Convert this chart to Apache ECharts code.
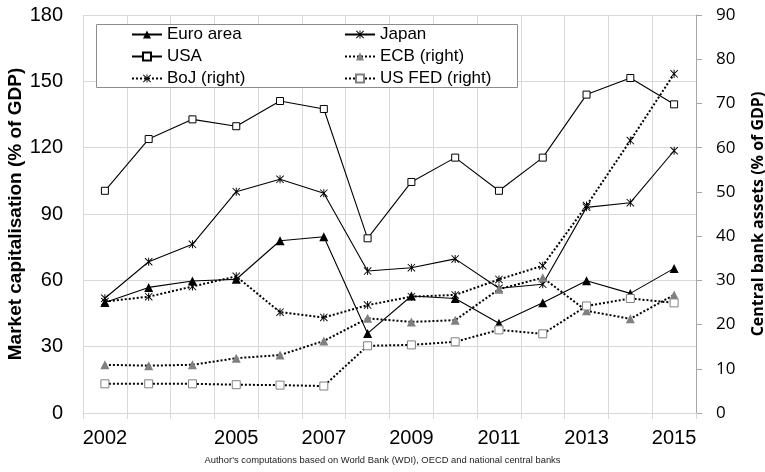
<!DOCTYPE html>
<html>
<head>
<meta charset="utf-8">
<script src="https://cdn.jsdelivr.net/npm/echarts@6/dist/echarts.min.js"></script>
<style>
  html, body { margin: 0; padding: 0; background: #fff; }
  #chart_1 { width: 765px; height: 472px; }
</style>
</head>
<body>
<div id="chart_1"></div>
<script>
var years = ['2002', '2003', '2004', '2005', '2006', '2007', '2008', '2009', '2010', '2011', '2012', '2013', '2014', '2015'];
var shownYears = ['2002', '2005', '2007', '2009', '2011', '2013', '2015'];

// market capitalisation, left axis
var euroArea = [50, 56.8, 59.7, 60.5, 77.9, 79.7, 36.0, 52.9, 51.8, 40.6, 49.9, 59.8, 54.1, 65.4];
var japan = [51.9, 68.4, 76.3, 100.1, 105.7, 99.4, 64.2, 65.7, 69.7, 56.4, 58.2, 93.0, 95.1, 118.6];
var usa = [100.5, 123.9, 132.8, 129.7, 141.1, 137.5, 79.0, 104.5, 115.5, 100.5, 115.5, 144.0, 151.5, 139.6];

// central bank assets, right axis
var ecb = [10.9, 10.7, 10.9, 12.4, 13.1, 16.3, 21.4, 20.6, 21.0, 28.0, 30.6, 23.1, 21.3, 26.7];
var boj = [25.2, 26.3, 28.6, 30.9, 22.8, 21.6, 24.4, 26.3, 26.7, 30.2, 33.3, 46.9, 61.6, 76.7];
var usFed = [6.6, 6.6, 6.6, 6.4, 6.3, 6.1, 15.2, 15.4, 16.1, 18.8, 17.9, 24.2, 25.9, 24.9];

var leftTicks = { min: 0, max: 180, interval: 30 };
var rightTicks = { min: 0, max: 90, interval: 10 };

var star = 'path://M4.4,0L5.6,0L5.6,10L4.4,10Z M0,0.8L0.8,0L10,9.2L9.2,10Z M9.2,0L10,0.8L0.8,10L0,9.2Z';
var arial = "'Liberation Sans', Arial, sans-serif";
var calibri = "'Open Sans', 'Noto Sans', sans-serif";

(function () {
    var myChart = echarts.init(document.getElementById('chart_1'));

    function solid(name, data, symbol, size, item) {
        return {
            name: name, type: 'line', yAxisIndex: 0, data: data,
            symbol: symbol, symbolSize: size, showAllSymbol: true,
            lineStyle: { color: '#000', width: 1.1 },
            itemStyle: item,
            emphasis: { disabled: true }
        };
    }
    function dotted(name, data, symbol, size, item) {
        return {
            name: name, type: 'line', yAxisIndex: 1, data: data,
            symbol: symbol, symbolSize: size, showAllSymbol: true,
            lineStyle: { color: '#000', width: 2, type: 'dotted' },
            itemStyle: item,
            emphasis: { disabled: true }
        };
    }

    var legendText = { fontFamily: arial, fontSize: 17, color: '#000' };

    var option = {
        animation: false,
        title: {
            text: "Author's computations based on World Bank (WDI), OECD and national central banks",
            left: 'center', top: 456, padding: 0,
            textStyle: { fontFamily: arial, fontSize: 9.4, fontWeight: 'normal', color: '#222' }
        },
        graphic: [{
            type: 'rect', z: 3,
            shape: { x: 96.5, y: 24.5, width: 421, height: 63 },
            style: { fill: '#fff', stroke: '#8c8c8c', lineWidth: 1 }
        }],
        legend: [{
            orient: 'vertical', left: 131, top: 26, padding: 0,
            itemWidth: 30, itemHeight: 10, itemGap: 5,
            data: ['Euro area', 'USA', 'BoJ (right)'],
            textStyle: legendText
        }, {
            orient: 'vertical', left: 344, top: 26, padding: 0,
            itemWidth: 30, itemHeight: 10, itemGap: 5,
            data: ['Japan', 'ECB (right)', 'US FED (right)'],
            textStyle: legendText
        }],
        grid: { left: 83, right: 69, top: 15, bottom: 59, containLabel: false, outerBoundsMode: 'none' },
        xAxis: {
            type: 'category',
            data: years,
            boundaryGap: true,
            axisLine: { lineStyle: { color: '#d9d9d9' } },
            axisTick: { show: true, interval: 0, length: 6, lineStyle: { color: '#d9d9d9' } },
            axisLabel: {
                interval: function (i, v) { return shownYears.indexOf(v) >= 0; },
                margin: 15, fontFamily: arial, fontSize: 20, color: '#000'
            },
            splitLine: { show: true, interval: 0, lineStyle: { color: '#d9d9d9' } }
        },
        yAxis: [{
            type: 'value',
            min: leftTicks.min, max: leftTicks.max, interval: leftTicks.interval,
            name: 'Market capitalisation (% of GDP)',
            nameLocation: 'middle', nameRotate: 90, nameGap: 58, nameMoveOverlap: false,
            nameTextStyle: { fontFamily: arial, fontSize: 19, fontWeight: 'bold', color: '#000' },
            axisLine: { show: false },
            axisTick: { show: false },
            axisLabel: { margin: 20, fontFamily: arial, fontSize: 20, color: '#000' },
            splitLine: { lineStyle: { color: '#d9d9d9' } }
        }, {
            type: 'value',
            min: rightTicks.min, max: rightTicks.max, interval: rightTicks.interval,
            name: 'Central bank assets (% of GDP)',
            nameLocation: 'middle', nameRotate: 90, nameGap: 54, nameMoveOverlap: false,
            nameTextStyle: { fontFamily: calibri, fontSize: 16, fontWeight: 'bold', color: '#000' },
            axisLine: { show: true, lineStyle: { color: '#a6a6a6' } },
            axisTick: { show: true, length: 6, lineStyle: { color: '#a6a6a6' } },
            axisLabel: { margin: 20, fontFamily: calibri, fontSize: 17, color: '#000' },
            splitLine: { show: false }
        }],
        series: [
            solid('Euro area', euroArea, 'triangle', 9, { color: '#000' }),
            solid('Japan', japan, star, 8, { color: '#000' }),
            solid('USA', usa, 'rect', 7, { color: '#fff', borderColor: '#000', borderWidth: 1 }),
            dotted('ECB (right)', ecb, 'triangle', 9, { color: '#808080' }),
            dotted('BoJ (right)', boj, star, 8, { color: '#000' }),
            dotted('US FED (right)', usFed, 'rect', 8, { color: '#fff', borderColor: '#808080', borderWidth: 1 })
        ]
    };

    if (option && typeof option === 'object')
        myChart.setOption(option);
    window.addEventListener('resize', function () {
        myChart.resize();
    });
})();
</script>
</body>
</html>
